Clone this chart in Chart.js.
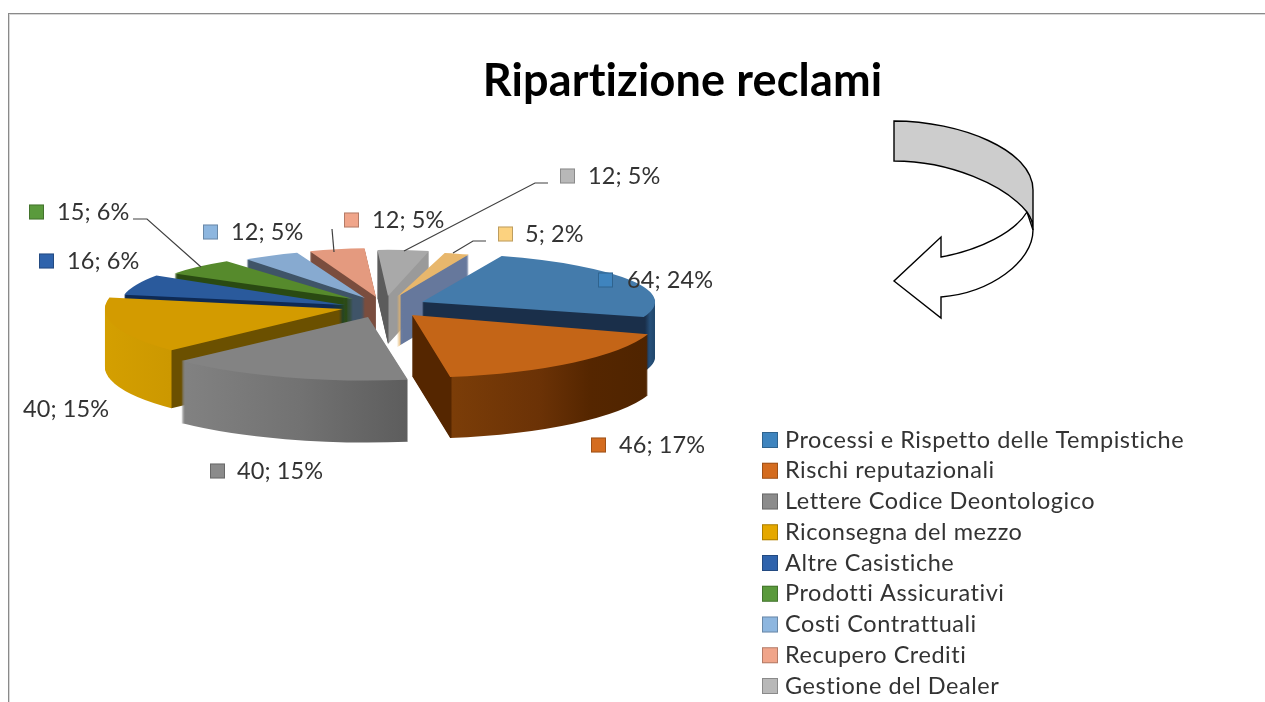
<!DOCTYPE html>
<html>
<head>
<meta charset="utf-8">
<title>Ripartizione reclami</title>
<script src="https://cdn.jsdelivr.net/npm/chart.js@4"></script>
<style>
    html,body{margin:0;padding:0;background:#fff;overflow:hidden;}
    #wrap{position:relative;width:1265px;height:702px;}
    #wrap canvas{position:absolute;left:0;top:0;}
    #frame{position:absolute;left:8px;top:13px;right:0;bottom:0;border-top:1px solid #8a8a8a;border-left:1px solid #8a8a8a;box-shadow:inset 1px 1px 0 #d8d8d8;}
    #arrow{position:absolute;left:0;top:0;}
</style>
</head>
<body>
<div id="wrap">
    <div id="frame"></div>
    <canvas id="chart" width="1265" height="702"></canvas>
    <svg id="arrow" width="1265" height="702">
        <path d="M1033,230 C1033,262 990,293 941,297 L941,318 L894,281 L941,237 L941,257 C980,250 1015,232 1027,212 Z" fill="#fff" stroke="#000" stroke-width="1.4"/>
        <path d="M894,121 C960,121 1033,150 1033,190 L1033,230 C1033,222 1031,218 1027,212 C1005,185 950,161 894,161 Z" fill="#cdcdcd" stroke="#000" stroke-width="1.4"/>
    </svg>
</div>
<script>
// data
var categories = ["Processi e Rispetto delle Tempistiche","Rischi reputazionali","Lettere Codice Deontologico","Riconsegna del mezzo","Altre Casistiche","Prodotti Assicurativi","Costi Contrattuali","Recupero Crediti","Gestione del Dealer","Altro"];
var values = [64,46,40,40,16,15,12,12,12,5];
var percents = [24,17,15,15,6,6,5,5,5,2];

// colours
var topColors = ["#447bab","#c46517","#838383","#d39b00","#2a5a9c","#568a2c","#87aad0","#e49a7f","#a9a9a9","#e8b76c"];
var keyColors = ["#3f84be","#d46c1f","#8b8b8b","#e5a800","#2f63ac","#5a9a3c","#8db6df","#f0a58a","#b8b8b8","#fcd27f"];
var wallColors = [
    [[422,"#1a2f4a"],[645,"#1a2f4a"],[650,"#26507a"],[656,"#1f4568"]],
    [[410,"#552600"],[451,"#552600"],[452,"#7b3d08"],[540,"#6b3206"],[590,"#552600"],[650,"#4f2400"]],
    [[180,"#828282"],[300,"#727272"],[412,"#5c5c5c"]],
    [[105,"#d49f00"],[171,"#cc9800"],[172,"#6b5000"],[344,"#6b5000"]],
    [[100,"#0e2a55"],[350,"#0e2a55"]],
    [[170,"#2a4a12"],[360,"#2a4a12"]],
    [[240,"#3f5468"],[370,"#3f5468"]],
    [[300,"#7a4d3e"],[380,"#7a4d3e"]],
    [[375,"#5c5c5c"],[388,"#5c5c5c"],[389,"#9a9a9a"],[440,"#9a9a9a"]],
    [[397,"#e3b36a"],[400,"#e3b36a"],[401,"#66789c"],[470,"#66789c"]]
];

// the exploded 3d look: where each slice's tip sits, its size, flattening and height
var sliceTip = [[422,302],[412,315],[368,317],[343,309],[345,305],[353,299],[365,298],[376,297],[388,296],[397,297]];
var sliceRadius = [233,248,259,238,225,213,200,195,181,210];
var sliceTilt = [.21,.253,.245,.25,.24,.22,.24,.25,.255,.215];
var sliceDepth = [55,61,62,58,50,50,50,50,48,50];
var paintOrder = [7,8,6,5,4,9,0,3,1,2];

// labels: [box x, middle y, text x], no box when box x is null
var labelPlace = [[598,280,627],[591,445,619],[210,471,237],[null,409,23],[39,261,67],[29,212,57],[203,232,231],[344,220,372],[560,176,588],[498,234,525]];
var leaders = [
    [[133,219],[147,219],[201,267]],
    [[332,229],[334,252]],
    [[548,183],[535,183],[404,251]],
    [[486,241],[473,241],[453,253]]
];
var legendX = 762, legendTextX = 785, legendY = 440, legendStep = 30.75, legendCount = 9;
var labelFont = "23.5px Lato, sans-serif";
var legendFont = "23.5px Lato, sans-serif";

function wallFill(ctx, i, shift){
    var stops = wallColors[i];
    var x0 = stops[0][0], x1 = stops[stops.length-1][0];
    var g = ctx.createLinearGradient(x0+shift,0,x1+shift,0);
    stops.forEach(function(s){ g.addColorStop((s[0]-x0)/(x1-x0),s[1]); });
    return g;
}

var pie3d = {
    id:"pie3d",
    beforeDraw:function(chart){
        chart.ctx.letterSpacing = "0.15px"; // also stops Lato joining the "ti" and "tt"
    },
    beforeDatasetsDraw:function(chart){
        var ctx = chart.ctx;
        var arcs = chart.getDatasetMeta(0).data;
        paintOrder.forEach(function(i){
            var arc = arcs[i];
            var tip = sliceTip[i];
            var top = arc.options.backgroundColor;
            arc.outerRadius = sliceRadius[i];
            function put(dy){
                ctx.setTransform(1,0,0,sliceTilt[i],tip[0]-arc.x,tip[1]+dy-arc.y*sliceTilt[i]);
                arc.draw(ctx);
            }
            arc.options.backgroundColor = wallFill(ctx,i,arc.x-tip[0]);
            for(var d=sliceDepth[i];d>0;d--){
                put(d);
            }
            arc.options.backgroundColor = top;
            put(0);
            ctx.setTransform(1,0,0,1,0,0);
        });
        return false;
    },
    afterDraw:function(chart){
        var ctx = chart.ctx;
        ctx.save();
        // leader lines
        ctx.strokeStyle = "#404040";
        ctx.lineWidth = 1.2;
        leaders.forEach(function(l){
            ctx.beginPath();
            l.forEach(function(p,n){ n ? ctx.lineTo(p[0],p[1]) : ctx.moveTo(p[0],p[1]); });
            ctx.stroke();
        });
        ctx.lineWidth = 1;
        // data labels
        ctx.textBaseline = "middle";
        ctx.font = labelFont;
        ctx.letterSpacing = "0.1px";
        values.forEach(function(v,i){
            var p = labelPlace[i];
            if(p[0]!==null){
                ctx.fillStyle = keyColors[i];
                ctx.fillRect(p[0],p[1]-7.5,15,15);
                ctx.strokeStyle = "rgba(0,0,0,.25)";
                ctx.strokeRect(p[0]+.5,p[1]-7,14,14);
            }
            ctx.fillStyle = "#333";
            ctx.fillText(v+"; "+percents[i]+"%",p[2],p[1]);
        });
        // legend, the last entry falls off the bottom of the picture
        ctx.font = legendFont;
        ctx.letterSpacing = "0.55px";
        for(var i=0;i<legendCount;i++){
            var y = legendY+i*legendStep;
            ctx.fillStyle = keyColors[i];
            ctx.fillRect(legendX,y-8,16,16);
            ctx.strokeStyle = "rgba(0,0,0,.25)";
            ctx.strokeRect(legendX+.5,y-7.5,15,15);
            ctx.fillStyle = "#333";
            ctx.fillText(categories[i],legendTextX,y);
        }
        ctx.restore();
    }
};

var chart = new Chart(document.getElementById("chart").getContext("2d"),{
    type:"pie",
    data:{
        labels:categories,
        datasets:[{data:values,backgroundColor:topColors,borderWidth:0}]
    },
    plugins:[pie3d],
    options:{
        responsive:false,
        animation:false,
        rotation:20,
        layout:{padding:{left:100,top:54}},
        plugins:{
            legend:{display:false},
            tooltip:{enabled:false},
            title:{
                display:true,
                text:"Ripartizione reclami",
                color:"#000",
                font:{family:"Lato, sans-serif",size:45,weight:"bold"},
                padding:0
            }
        }
    }
});
</script>
</body>
</html>
